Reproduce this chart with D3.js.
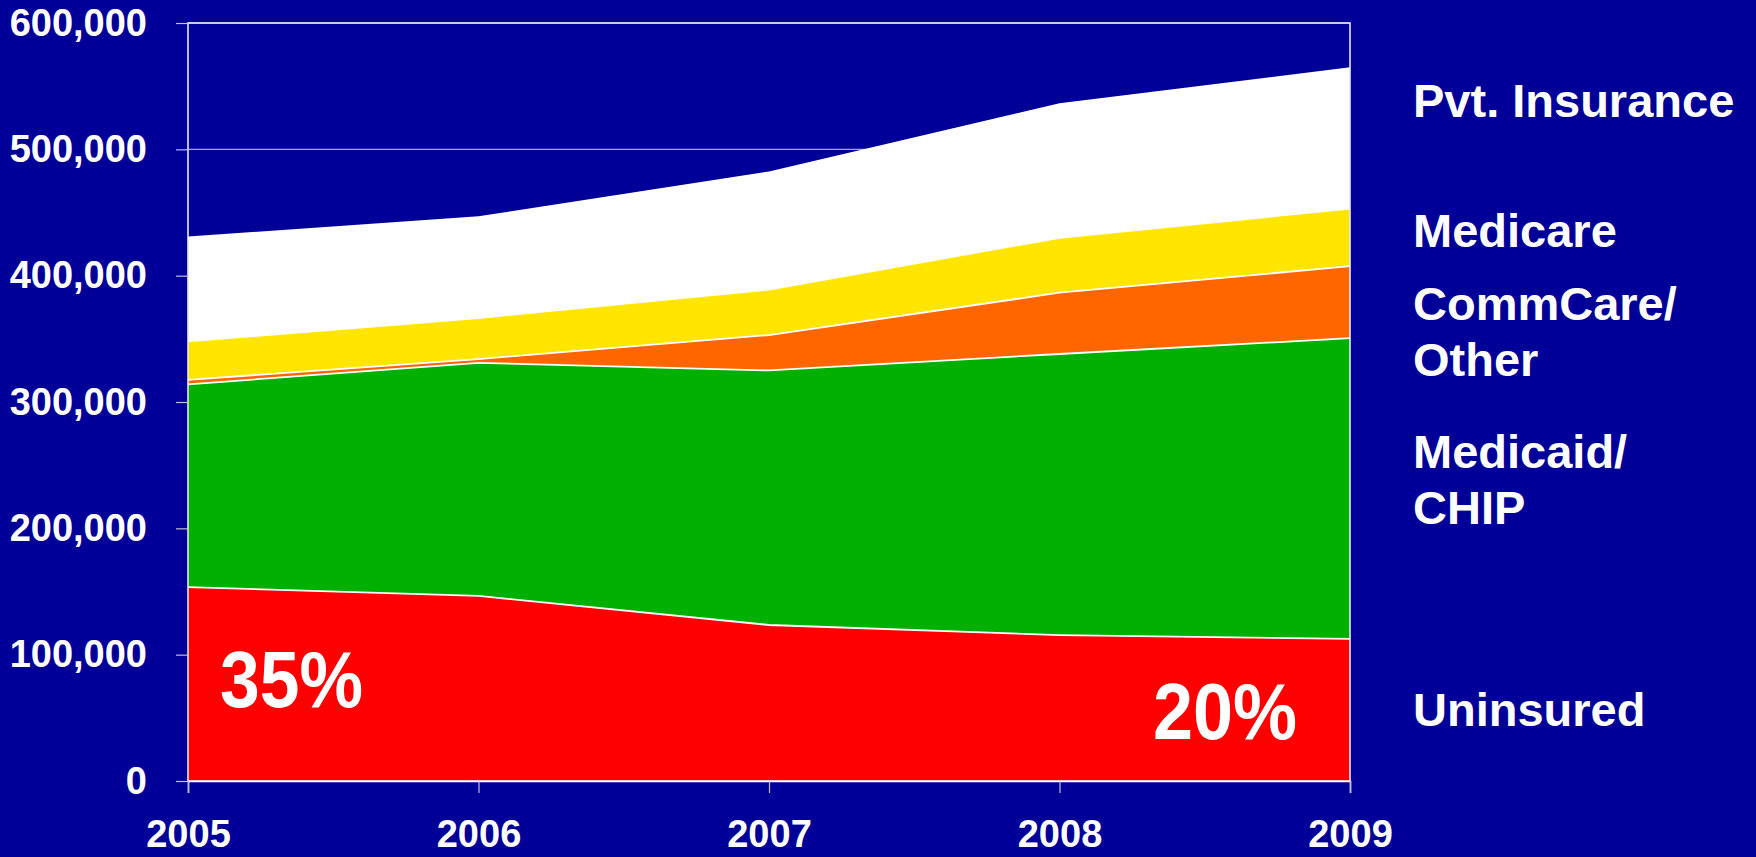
<!DOCTYPE html>
<html>
<head>
<meta charset="utf-8">
<script src="https://cdn.jsdelivr.net/npm/d3@7"></script>
<style>
  body { margin: 0; background: #000099; }
  text { font-family: "Liberation Sans", Arial, sans-serif; font-weight: bold; fill: #fff; }
</style>
</head>
<body>
<svg id="Chartsvg" width="1756" height="857"></svg>
<script>
var years = [2005, 2006, 2007, 2008, 2009];
var uninsured = [153500, 146500, 123500, 115500, 112500];
var medicaid  = [160500, 184500, 201500, 222500, 238000];
var commcare  = [3500, 3000, 28000, 48500, 57000];
var medicare  = [30500, 32500, 36000, 43500, 45500];
var pvt       = [83000, 80500, 93500, 106500, 112000];
var seriesKeys = ["uninsured", "medicaid", "commcare", "medicare", "pvt"];
var seriesColors = ["#ff0000", "#00b000", "#ff6600", "#ffe500", "#ffffff"];
var yTicks = [0, 100000, 200000, 300000, 400000, 500000, 600000];
var legendLines = [["Pvt. Insurance"], ["Medicare"], ["CommCare/", "Other"], ["Medicaid/", "CHIP"], ["Uninsured"]];
var pctLabels = ["35%", "20%"];

var svg = d3.select("#Chartsvg"),
    margin = {left: 188, top: 23, right: 406, bottom: 76},
    width = +svg.attr("width") - margin.left - margin.right,
    height = +svg.attr("height") - margin.top - margin.bottom,
    g = svg.append("g").attr("transform", "translate(" + margin.left + "," + margin.top + ")");

var table = years.map(function(y, i) {
    return {year: y, uninsured: uninsured[i], medicaid: medicaid[i], commcare: commcare[i], medicare: medicare[i], pvt: pvt[i]};
});

var x = d3.scaleLinear().domain([2005, 2009]).range([0, width]);
var y = d3.scaleLinear().domain([0, 600000]).range([height, 0]);

// grid lines (only the upper ones show above the stack)
g.append("g").selectAll("line")
    .data(yTicks.slice(1))
    .enter().append("line")
    .attr("x1", 0).attr("x2", width)
    .attr("y1", function(d) { return y(d); })
    .attr("y2", function(d) { return y(d); })
    .attr("stroke", "#a8a8c8")
    .attr("stroke-width", 1.2);

var stack = d3.stack().keys(seriesKeys);
var layers = stack(table);

var area = d3.area()
    .x(function(d) { return x(d.data.year); })
    .y0(function(d) { return y(d[0]); })
    .y1(function(d) { return y(d[1]); });

g.append("g").selectAll("path")
    .data(layers)
    .enter().append("path")
    .attr("fill", function(d, i) { return seriesColors[i]; })
    .attr("d", area);

// thin white seams on top of each layer
var topLine = d3.line()
    .x(function(d) { return x(d.data.year); })
    .y(function(d) { return y(d[1]); });
g.append("g").selectAll("path")
    .data(layers.slice(0, 4))
    .enter().append("path")
    .attr("fill", "none")
    .attr("stroke", "#ffffff")
    .attr("stroke-width", 1.8)
    .attr("d", topLine);

// plot border
g.append("rect")
    .attr("x", 0).attr("y", 0)
    .attr("width", width).attr("height", height)
    .attr("fill", "none")
    .attr("stroke", "#e8e8f0")
    .attr("stroke-width", 1.6);

// y axis
var yAxis = g.append("g")
    .call(d3.axisLeft(y).tickValues(yTicks).tickSize(12).tickPadding(29).tickFormat(d3.format(",")));
yAxis.select(".domain").remove();
yAxis.selectAll("line").attr("stroke", "#c0c0d0").attr("stroke-width", 1.2);
yAxis.selectAll("text").style("font-size", "38px").attr("fill", "#fff");

// x axis
var xAxis = g.append("g")
    .attr("transform", "translate(0," + height + ")")
    .call(d3.axisBottom(x).tickValues(years).tickSize(12).tickPadding(27).tickFormat(d3.format("d")));
xAxis.select(".domain").attr("stroke", "#ffffff").attr("stroke-width", 1.6);
xAxis.selectAll("line").attr("stroke", "#c0c0d0").attr("stroke-width", 1.2);
xAxis.selectAll("text").style("font-size", "38px").attr("fill", "#fff");

// series labels on the right
var legendY = [117, 247, 320, 468, 726];
var legend = svg.append("g").selectAll("text")
    .data(legendLines)
    .enter().append("text")
    .attr("x", 1413)
    .attr("y", function(d, i) { return legendY[i]; })
    .style("font-size", "47px");
legend.selectAll("tspan")
    .data(function(d) { return d; })
    .enter().append("tspan")
    .attr("x", 1413)
    .attr("dy", function(d, i) { return i === 0 ? 0 : 56; })
    .text(function(d) { return d; });

// share uninsured, first and last year
g.append("text")
    .attr("x", x(2005) + 32)
    .attr("y", 707 - margin.top)
    .attr("textLength", 143)
    .attr("lengthAdjust", "spacingAndGlyphs")
    .style("font-size", "79px")
    .text(pctLabels[0]);
g.append("text")
    .attr("x", x(2009) - 53)
    .attr("y", 739 - margin.top)
    .attr("text-anchor", "end")
    .attr("textLength", 144)
    .attr("lengthAdjust", "spacingAndGlyphs")
    .style("font-size", "79px")
    .text(pctLabels[1]);
</script>
</body>
</html>
